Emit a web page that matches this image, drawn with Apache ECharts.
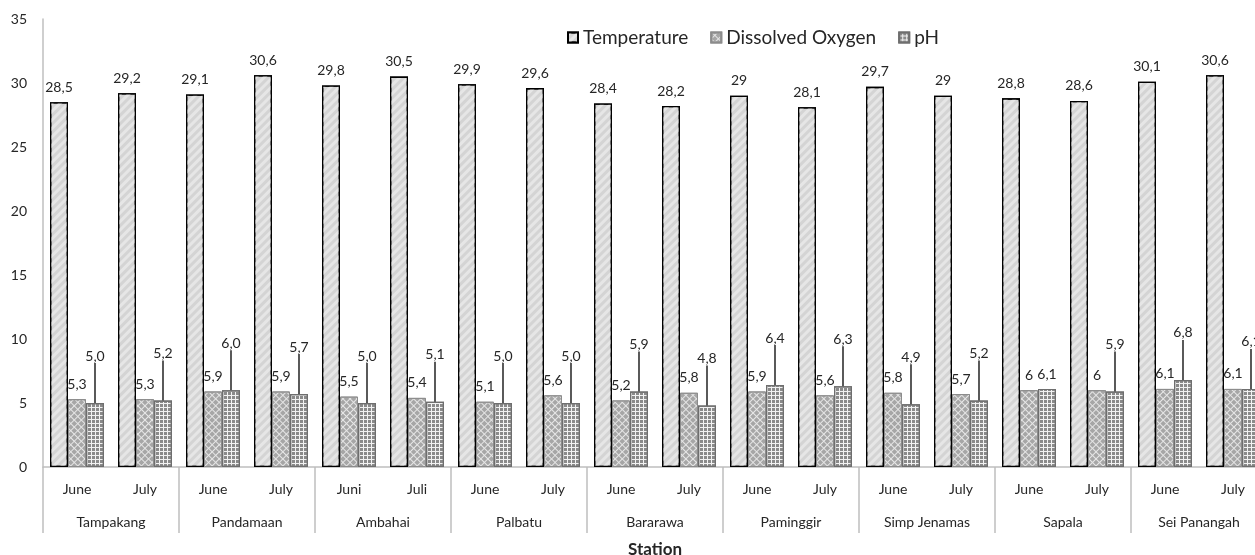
<!DOCTYPE html>
<html>
<head>
<meta charset="utf-8">
<script src="https://cdn.jsdelivr.net/npm/echarts@6/dist/echarts.min.js"></script>
<style>
html,body{margin:0;padding:0;background:#fff;overflow:hidden;width:1255px;height:555px;}
#chart{width:1267px;height:555px;}
</style>
</head>
<body>
<div id="chart"></div>
<script>
const months = ['June','July','June','July','Juni','Juli','June','July','June','July','June','July','June','July','June','July','June','July'];
const stations = ['Tampakang','Pandamaan','Ambahai','Palbatu','Bararawa','Paminggir','Simp Jenamas','Sapala','Sei Panangah'];
const temperature = [28.5,29.2,29.1,30.6,29.8,30.5,29.9,29.6,28.4,28.2,29,28.1,29.7,29,28.8,28.6,30.1,30.6];
const dissolvedOxygen = [5.3,5.3,5.9,5.9,5.5,5.4,5.1,5.6,5.2,5.8,5.9,5.6,5.8,5.7,6,6,6.1,6.1];
const ph = [5.0,5.2,6.0,5.7,5.0,5.1,5.0,5.0,5.9,4.8,6.4,6.3,4.9,5.2,6.1,5.9,6.8,6.1];
const yTicks = [0,5,10,15,20,25,30,35];

const PH_PLAIN = 14; // pH label sitting right on its bar (no leader line)
const FONT = 'Lato, "Open Sans", sans-serif';
const comma = v => String(v).replace('.', ',');

const chart = echarts.init(document.getElementById('chart'), null, {renderer:'canvas'});
const labelBase = {show:true, position:'top', distance:8, color:'#262626', fontFamily:FONT, fontSize:14};

chart.setOption({
  animation:false,
  textStyle:{fontFamily:FONT},
  legend:{
    left:562, top:23, icon:'rect', itemWidth:10, itemHeight:10, itemGap:22, itemTextGap:6,
    textStyle:{fontSize:19, color:'#262626', fontFamily:FONT}
  },
  grid:{left:43, right:0, top:19, bottom:88, outerBoundsMode:'none', containLabel:false},
  xAxis:[{
    type:'category', data:months, position:'bottom',
    axisLine:{show:true, lineStyle:{color:'#bfbfbf', width:1.5}},
    axisTick:{show:false},
    axisLabel:{interval:0, margin:15, fontSize:14, color:'#262626', fontFamily:FONT}
  },{
    type:'category', data:stations, position:'bottom',
    axisLine:{show:false},
    axisTick:{show:true, length:66, interval:0, alignWithLabel:false, lineStyle:{color:'#bfbfbf', width:1.5}},
    axisLabel:{interval:0, margin:48, fontSize:14, color:'#262626', fontFamily:FONT},
    name:'Station', nameLocation:'middle', nameGap:74,
    nameTextStyle:{fontWeight:'bold', fontSize:17, color:'#262626', fontFamily:FONT}
  }],
  yAxis:{
    type:'value', min:yTicks[0], max:yTicks[yTicks.length-1], interval:5,
    axisLine:{show:true, lineStyle:{color:'#bfbfbf', width:1.5}},
    axisTick:{show:false}, splitLine:{show:false},
    axisLabel:{margin:16, fontSize:14, color:'#262626', fontFamily:FONT}
  },
  series:[{
    name:'Temperature', type:'bar', xAxisIndex:0, barWidth:18, barGap:'0%',
    data:temperature,
    itemStyle:{color:'#d4d4d4', borderColor:'#000', borderWidth:1.3,
      decal:{symbol:'rect', symbolSize:1, color:'#e6e6e6', dashArrayX:[1,0], dashArrayY:[3,3], rotation:-Math.PI/4}},
    label:Object.assign({}, labelBase, {formatter:p=>comma(p.value)})
  },{
    name:'Dissolved Oxygen', type:'bar', xAxisIndex:0, barWidth:18, barGap:'0%',
    data:dissolvedOxygen,
    itemStyle:{color:'#e6e6e6', borderColor:'#8c8c8c', borderWidth:1,
      decal:{symbol:'rect', symbolSize:1, color:'#a6a6a6', dashArrayX:[4,1], dashArrayY:[4,1], rotation:Math.PI/4}},
    label:Object.assign({}, labelBase, {formatter:p=>comma(p.value)})
  },{
    name:'pH', type:'bar', xAxisIndex:0, barWidth:18, barGap:'0%',
    data:ph.map((v,i)=> i===PH_PLAIN ? {value:v, labelLine:{show:false}} : v),
    itemStyle:{color:'#f2f2f2', borderColor:'#6e6e6e', borderWidth:1.2,
      decal:{symbol:'rect', symbolSize:1, color:'#8a8a8a', dashArrayX:[3,1], dashArrayY:[3,1]}},
    label:Object.assign({}, labelBase, {distance:5, formatter:p=>comma(Number(p.value).toFixed(1))}),
    labelLine:{show:true, lineStyle:{color:'#000', width:1.3}},
    labelLayout:function(p){ return p.dataIndex===PH_PLAIN ? {dy:-2} : {dy:-35}; }
  }]
});
</script>
</body>
</html>
